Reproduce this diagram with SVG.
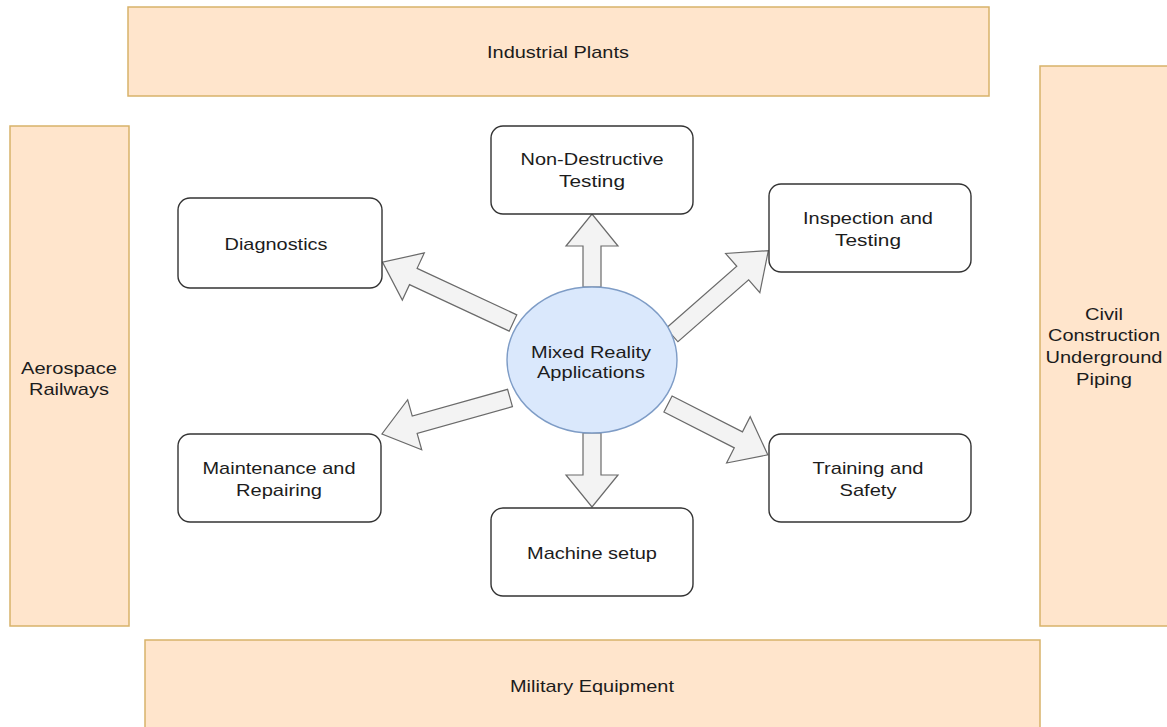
<svg xmlns="http://www.w3.org/2000/svg" width="1167" height="727" viewBox="0 0 1167 727">
  <style>
    .zone { fill: #ffe5cc; stroke: #d8b26a; stroke-width: 1.5; }
    .box { fill: #ffffff; stroke: #333333; stroke-width: 1.4; }
    .hub { fill: #dae8fc; stroke: #7e9cc6; stroke-width: 1.4; }
    .arrow { fill: #f3f3f3; stroke: #6a6a6a; stroke-width: 1.2; stroke-linejoin: miter; }
    text { font-family: "Liberation Sans", Arial, sans-serif; font-size: 17px; fill: #1c1c1c; text-anchor: middle; }
  </style>
  <rect width="1167" height="727" fill="#ffffff"/>

  <!-- surrounding sectors -->
  <g id="industrial-plants">
    <rect class="zone" x="128" y="7" width="861" height="89"/>
    <text x="558" y="58" textLength="142" lengthAdjust="spacingAndGlyphs">Industrial Plants</text>
  </g>
  <g id="aerospace-railways">
    <rect class="zone" x="10" y="126" width="119" height="500"/>
    <text x="69" y="374" textLength="96" lengthAdjust="spacingAndGlyphs">Aerospace</text>
    <text x="69" y="395" textLength="80" lengthAdjust="spacingAndGlyphs">Railways</text>
  </g>
  <g id="civil-construction">
    <rect class="zone" x="1040" y="66" width="130" height="560"/>
    <text x="1104" y="320" textLength="38" lengthAdjust="spacingAndGlyphs">Civil</text>
    <text x="1104" y="341" textLength="112" lengthAdjust="spacingAndGlyphs">Construction</text>
    <text x="1104" y="363" textLength="117" lengthAdjust="spacingAndGlyphs">Underground</text>
    <text x="1104" y="385" textLength="56" lengthAdjust="spacingAndGlyphs">Piping</text>
  </g>
  <g id="military-equipment">
    <rect class="zone" x="145" y="640" width="895" height="90"/>
    <text x="592" y="692" textLength="164" lengthAdjust="spacingAndGlyphs">Military Equipment</text>
  </g>

  <!-- connectors: block arrows from the hub, each drawn along +x then rotated -->
  <g id="connectors">
    <path class="arrow" transform="translate(592,287) rotate(-90)" d="M0,-9 H41 V-26 L73,0 L41,26 V9 H0 Z"/>
    <path class="arrow" transform="translate(592,433) rotate(90)" d="M0,-9 H42 V-26 L74,0 L42,26 V9 H0 Z"/>
    <path class="arrow" transform="translate(513,323) rotate(-155)" d="M0,-9 H110 V-26 L144,0 L110,26 V9 H0 Z"/>
    <path class="arrow" transform="translate(672,335) rotate(-41.2)" d="M0,-9 H94 V-26 L128,0 L94,26 V9 H0 Z"/>
    <path class="arrow" transform="translate(510,398) rotate(164.3)" d="M0,-9 H99 V-26 L133,0 L99,26 V9 H0 Z"/>
    <path class="arrow" transform="translate(668,404) rotate(27)" d="M0,-9 H79 V-26 L112,0 L79,26 V9 H0 Z"/>
  </g>

  <g id="hub">
    <ellipse class="hub" cx="592" cy="360" rx="85" ry="73"/>
    <text x="591" y="358" textLength="120" lengthAdjust="spacingAndGlyphs">Mixed Reality</text>
    <text x="591" y="378" textLength="108" lengthAdjust="spacingAndGlyphs">Applications</text>
  </g>

  <g id="non-destructive-testing">
    <rect class="box" x="491" y="126" width="202" height="88" rx="12"/>
    <text x="592" y="165" textLength="143" lengthAdjust="spacingAndGlyphs">Non-Destructive</text>
    <text x="592" y="187" textLength="66" lengthAdjust="spacingAndGlyphs">Testing</text>
  </g>
  <g id="diagnostics">
    <rect class="box" x="178" y="198" width="204" height="90" rx="12"/>
    <text x="276" y="250" textLength="103" lengthAdjust="spacingAndGlyphs">Diagnostics</text>
  </g>
  <g id="inspection-testing">
    <rect class="box" x="769" y="184" width="202" height="88" rx="12"/>
    <text x="868" y="224" textLength="130" lengthAdjust="spacingAndGlyphs">Inspection and</text>
    <text x="868" y="246" textLength="66" lengthAdjust="spacingAndGlyphs">Testing</text>
  </g>
  <g id="maintenance-repairing">
    <rect class="box" x="178" y="434" width="203" height="88" rx="12"/>
    <text x="279" y="474" textLength="153" lengthAdjust="spacingAndGlyphs">Maintenance and</text>
    <text x="279" y="496" textLength="86" lengthAdjust="spacingAndGlyphs">Repairing</text>
  </g>
  <g id="training-safety">
    <rect class="box" x="769" y="434" width="202" height="88" rx="12"/>
    <text x="868" y="474" textLength="111" lengthAdjust="spacingAndGlyphs">Training and</text>
    <text x="868" y="496" textLength="57" lengthAdjust="spacingAndGlyphs">Safety</text>
  </g>
  <g id="machine-setup">
    <rect class="box" x="491" y="508" width="202" height="88" rx="12"/>
    <text x="592" y="559" textLength="130" lengthAdjust="spacingAndGlyphs">Machine setup</text>
  </g>
</svg>
